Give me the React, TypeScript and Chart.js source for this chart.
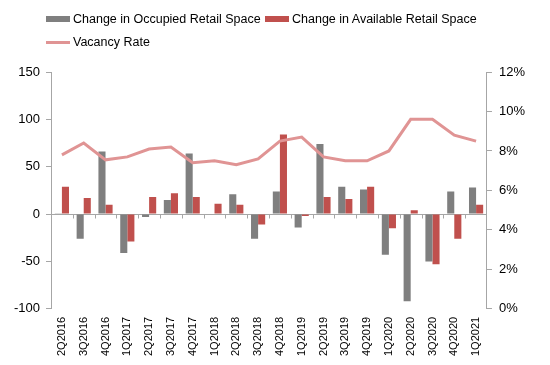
import React, { useEffect, useRef } from 'react';
import { Chart, registerables } from 'chart.js';

Chart.register(...registerables);

const quarters = [
  '2Q2016', '3Q2016', '4Q2016', '1Q2017', '2Q2017', '3Q2017', '4Q2017', '1Q2018', '2Q2018', '3Q2018',
  '4Q2018', '1Q2019', '2Q2019', '3Q2019', '4Q2019', '1Q2020', '2Q2020', '3Q2020', '4Q2020', '1Q2021',
];
const occupiedChange = [1, -26, 66, -41, -3, 15, 64, 0, 21, -26, 24, -14, 74, 29, 26, -43, -92, -50, 24, 28];
const availableChange = [29, 17, 10, -29, 18, 22, 18, 11, 10, -11, 84, -2, 18, 16, 29, -15, 4, -53, -26, 10];
const vacancyRate = [7.8, 8.4, 7.55, 7.7, 8.1, 8.2, 7.4, 7.5, 7.3, 7.6, 8.5, 8.7, 7.7, 7.5, 7.5, 8.0, 9.6, 9.6, 8.8, 8.5];

const spaceAxis = { min: -100, max: 150, step: 50 };
const rateAxis = { min: 0, max: 12, step: 2 };

const GREY = '#7f7f7f';
const RED = '#c0504d';
const PINK = '#e09494';
const AXIS = '#a6a6a6';
const FONT = '"Liberation Sans", Arial, sans-serif';

// Horizontal line at zero with short ticks between categories
const zeroLinePlugin = {
  id: 'zeroLine',
  beforeDatasetsDraw(chart: any) {
    const { ctx, chartArea, scales } = chart;
    const xs = scales.x;
    const y0 = Math.round(scales.y.getPixelForValue(0)) + 0.5;
    const step = xs.getPixelForValue(1) - xs.getPixelForValue(0);
    ctx.save();
    ctx.strokeStyle = AXIS;
    ctx.lineWidth = 1;
    ctx.beginPath();
    ctx.moveTo(chartArea.left, y0);
    ctx.lineTo(chartArea.right, y0);
    for (let i = 1; i < quarters.length; i++) {
      const px = Math.round(xs.getPixelForValue(i) - step / 2) + 0.5;
      ctx.moveTo(px, y0);
      ctx.lineTo(px, y0 + 4);
    }
    ctx.stroke();
    ctx.restore();
  },
};

const legendItems = [
  { label: 'Change in Occupied Retail Space', kind: 'box', color: GREY, left: 46, top: 10 },
  { label: 'Change in Available Retail Space', kind: 'box', color: RED, left: 265, top: 10 },
  { label: 'Vacancy Rate', kind: 'line', color: PINK, left: 46, top: 33 },
];

export default function App() {
  const canvasRef = useRef<HTMLCanvasElement | null>(null);

  useEffect(() => {
    if (!canvasRef.current) return;
    const chart = new Chart(canvasRef.current, {
      type: 'bar',
      data: {
        labels: quarters,
        datasets: [
          {
            type: 'line',
            label: 'Vacancy Rate',
            data: vacancyRate,
            yAxisID: 'y1',
            borderColor: PINK,
            borderWidth: 3,
            pointRadius: 0,
            tension: 0,
            order: 0,
          } as any,
          {
            label: 'Change in Occupied Retail Space',
            data: occupiedChange,
            backgroundColor: GREY,
            yAxisID: 'y',
            categoryPercentage: 0.65,
            barPercentage: 1,
            order: 1,
          },
          {
            label: 'Change in Available Retail Space',
            data: availableChange,
            backgroundColor: RED,
            yAxisID: 'y',
            categoryPercentage: 0.65,
            barPercentage: 1,
            order: 1,
          },
        ],
      },
      options: {
        animation: false,
        responsive: true,
        maintainAspectRatio: false,
        layout: { padding: { top: 72, left: 8, right: 18, bottom: 1 } },
        plugins: { legend: { display: false }, tooltip: { enabled: false } },
        scales: {
          x: {
            grid: { display: false, drawTicks: false },
            border: { display: false },
            ticks: {
              autoSkip: false,
              minRotation: 90,
              maxRotation: 90,
              padding: 8,
              color: '#000',
              font: { family: FONT, size: 11 },
            },
          },
          y: {
            position: 'left',
            min: spaceAxis.min,
            max: spaceAxis.max,
            ticks: { stepSize: spaceAxis.step, padding: 6, color: '#000', font: { family: FONT, size: 13 } },
            grid: { drawOnChartArea: false, tickLength: 5, color: AXIS },
            border: { color: AXIS },
          },
          y1: {
            position: 'right',
            min: rateAxis.min,
            max: rateAxis.max,
            ticks: {
              stepSize: rateAxis.step,
              padding: 7,
              color: '#000',
              font: { family: FONT, size: 13 },
              callback: (v: any) => `${v}%`,
            },
            grid: { drawOnChartArea: false, tickLength: 5, color: AXIS },
            border: { color: AXIS },
          },
        },
      },
      plugins: [zeroLinePlugin],
    });
    return () => chart.destroy();
  }, []);

  return (
    <div style={{ position: 'absolute', left: 0, top: 0, width: 550, height: 365, background: '#fff' }}>
      <canvas ref={canvasRef} />
      {legendItems.map((it) => (
        <div
          key={it.label}
          style={{
            position: 'absolute',
            left: it.left,
            top: it.top,
            height: 18,
            display: 'flex',
            alignItems: 'center',
            fontFamily: FONT,
            fontSize: 12.5,
            color: '#000',
            whiteSpace: 'nowrap',
          }}
        >
          <span
            style={{
              display: 'inline-block',
              width: 24,
              height: it.kind === 'box' ? 6 : 3,
              background: it.color,
              marginRight: 3,
            }}
          />
          {it.label}
        </div>
      ))}
    </div>
  );
}
